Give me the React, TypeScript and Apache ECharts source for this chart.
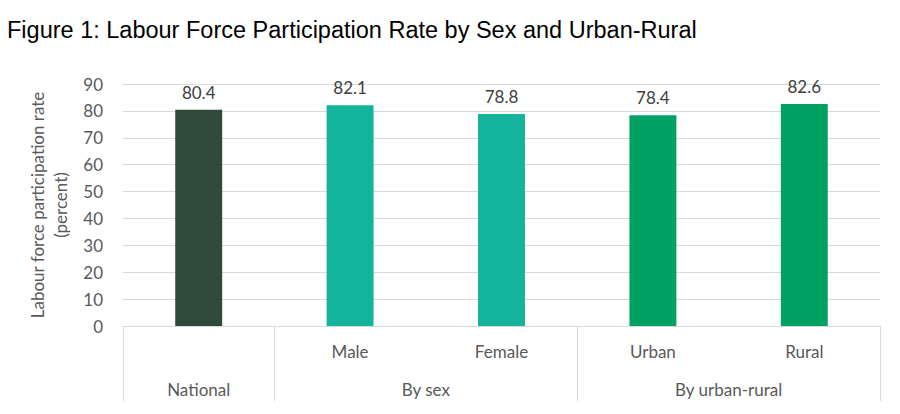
import React, { useEffect, useRef } from 'react';
import * as echarts from 'echarts';

const categories = ['', 'Male', 'Female', 'Urban', 'Rural'];
const values = [80.4, 82.1, 78.8, 78.4, 82.6];
const barColors = ['#2F4A3B', '#14B39C', '#14B39C', '#00A163', '#00A163'];
// group labels sit at the middle of their span on a 0..5 scale
const groups = [
  { name: 'National', at: 0.5 },
  { name: 'By sex', at: 2 },
  { name: 'By urban-rural', at: 4 },
];
const groupEdges = [0, 1, 3, 5];

const FONT = 'Lato, "Open Sans", sans-serif';
const GREY = '#595959';

const App: React.FC = () => {
  const ref = useRef<HTMLDivElement>(null);

  useEffect(() => {
    if (!ref.current) return;
    const chart = echarts.init(ref.current, undefined, { renderer: 'svg' });

    chart.setOption({
      animation: false,
      title: {
        text: 'Figure 1: Labour Force Participation Rate by Sex and Urban-Rural',
        left: -6,
        top: 5,
        textStyle: { fontFamily: '"Liberation Sans", Arial, sans-serif', fontWeight: 'normal', fontSize: 23.5, color: '#000' },
      },
      grid: { left: 115, right: 12, top: 76, bottom: 80 },
      xAxis: [
        {
          type: 'category',
          data: categories,
          axisLine: { lineStyle: { color: '#d9d9d9' } },
          axisTick: { show: false },
          axisLabel: { color: GREY, fontFamily: FONT, fontSize: 17, margin: 17 },
        },
        {
          type: 'value',
          min: 0,
          max: 5,
          position: 'bottom',
          splitLine: { show: false },
          axisLine: { lineStyle: { color: '#d9d9d9' } },
          axisTick: {
            show: true,
            length: 75,
            customValues: groupEdges,
            lineStyle: { color: '#d9d9d9' },
          },
          axisLabel: {
            customValues: groups.map(g => g.at),
            formatter: (v: number) => groups.find(g => g.at === v)?.name ?? '',
            color: GREY,
            fontFamily: FONT,
            fontSize: 17,
            margin: 55,
          },
        },
      ],
      yAxis: {
        type: 'value',
        min: 0,
        max: 90,
        interval: 10,
        name: 'Labour force participation rate\n(percent)',
        nameLocation: 'middle',
        nameGap: 43,
        nameTextStyle: { color: GREY, fontFamily: FONT, fontSize: 17, lineHeight: 23, padding: [0, 0, 0, 0] },
        axisLine: { show: false },
        axisTick: { show: false },
        axisLabel: { color: GREY, fontFamily: FONT, fontSize: 17, margin: 20 },
        splitLine: { lineStyle: { color: '#d9d9d9' } },
      },
      series: [
        {
          type: 'bar',
          xAxisIndex: 0,
          barWidth: '31%',
          data: values.map((v, i) => ({ value: v, itemStyle: { color: barColors[i] } })),
          label: {
            show: true,
            position: 'top',
            distance: 9,
            color: '#404040',
            fontFamily: FONT,
            fontSize: 17,
          },
        },
      ],
    });

    return () => chart.dispose();
  }, []);

  return <div ref={ref} style={{ width: 884, height: 398 }} />;
};

export default App;
